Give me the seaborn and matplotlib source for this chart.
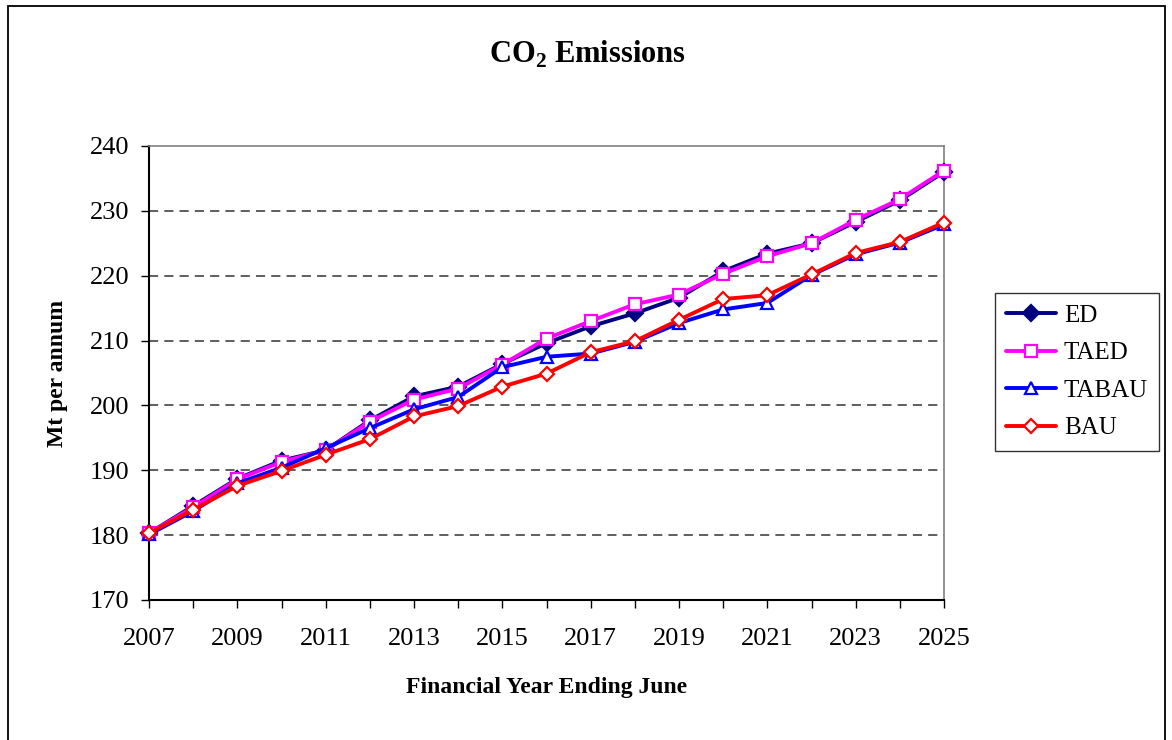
import matplotlib
matplotlib.use("Agg")
import matplotlib.pyplot as plt
import seaborn as sns
import pandas as pd
from matplotlib.patches import Rectangle

years = list(range(2007, 2026))
ed    = [180.3, 184.5, 188.7, 191.5, 193.1, 197.7, 201.4, 202.9, 206.4, 209.6, 212.2, 214.2, 216.6, 220.7, 223.4, 225.0, 228.3, 231.6, 236.0]
taed  = [180.3, 184.3, 188.6, 191.3, 193.1, 197.5, 200.9, 202.6, 206.3, 210.3, 213.0, 215.6, 217.1, 220.3, 223.0, 225.0, 228.6, 231.8, 236.2]
tabau = [180.1, 183.7, 188.0, 190.4, 193.4, 196.5, 199.4, 201.3, 205.9, 207.5, 208.0, 209.8, 212.7, 214.8, 215.8, 220.1, 223.3, 225.1, 227.9]
bau   = [180.3, 183.9, 187.6, 189.9, 192.4, 194.8, 198.3, 199.9, 202.9, 204.9, 208.2, 209.9, 213.2, 216.4, 217.0, 220.2, 223.5, 225.2, 228.2]
series_names = ["ED", "TAED", "TABAU", "BAU"]

df = pd.DataFrame({"year": years, "ED": ed, "TAED": taed, "TABAU": tabau, "BAU": bau})

sns.set_style("white")
plt.rcParams["font.family"] = ["Liberation Serif", "DejaVu Serif"]
plt.rcParams["text.color"] = "black"
plt.rcParams["xtick.color"] = "black"
plt.rcParams["ytick.color"] = "black"
plt.rcParams["axes.labelcolor"] = "black"

fig = plt.figure(figsize=(11.72, 7.4), dpi=100)
ax = fig.add_axes([149/1172, 1-600/740, (944-149)/1172, (600-146)/740])

styles = {
    "ED":    dict(color="#000080", marker="D", mfc="#000080", mec="#000080", ms=8),
    "TAED":  dict(color="#FF00FF", marker="s", mfc="white", mec="#FF00FF", ms=8),
    "TABAU": dict(color="#0000FF", marker="^", mfc="white", mec="#0000FF", ms=9),
    "BAU":   dict(color="#FF0000", marker="D", mfc="white", mec="#FF0000", ms=7),
}
for name in series_names:
    st = styles[name]
    sns.lineplot(data=df, x="year", y=name, ax=ax, color=st["color"], marker=st["marker"],
                 markerfacecolor=st["mfc"], markeredgecolor=st["mec"], markersize=st["ms"],
                 markeredgewidth=1.6, linewidth=2.8, label=name, clip_on=False, zorder=3)

ax.set_xlim(2007, 2025)
ax.set_ylim(170, 240)
ax.set_xticks(years)
ax.set_xticklabels([str(y) if (y - 2007) % 2 == 0 else "" for y in years])
ax.set_yticks(range(170, 241, 10))
ax.tick_params(axis="x", direction="out", length=6, width=1, pad=14, labelsize=19, bottom=True, colors="black")
ax.tick_params(axis="y", direction="out", length=6, width=1, pad=8, labelsize=19, left=True, colors="black")

for yv in range(180, 240, 10):
    ax.axhline(yv, color="#333333", lw=1.1, ls=(0, (6, 4)), zorder=1)

ax.spines["left"].set_color("black")
ax.spines["bottom"].set_color("black")
ax.spines["left"].set_linewidth(1.5)
ax.spines["bottom"].set_linewidth(1.5)
ax.spines["top"].set_color("#808080")
ax.spines["right"].set_color("#808080")
ax.spines["top"].set_linewidth(1.2)
ax.spines["right"].set_linewidth(1.2)

ax.set_xlabel("")
ax.set_ylabel("")
fig.text(587/1172, 1 - 54/740, r"CO$_\mathregular{2}$ Emissions", ha="center", va="center",
         fontsize=22, fontweight="bold", color="black")
fig.text((149 + 944) / 2 / 1172, 1 - 688/740, "Financial Year Ending June", ha="center", va="center",
         fontsize=17, fontweight="bold", color="black")
fig.text(57/1172, 1 - 373/740, "Mt per annum", ha="center", va="center", rotation=90,
         fontsize=17, fontweight="bold", color="black")

leg = ax.legend(loc="upper left", bbox_to_anchor=(995/1172, 1-293/740), bbox_transform=fig.transFigure,
                frameon=True, fancybox=False, edgecolor="black", fontsize=18, handlelength=2.0,
                borderpad=0.45, labelspacing=0.6, handletextpad=0.3, borderaxespad=0)
leg.get_frame().set_linewidth(1.0)
for t in leg.get_texts():
    t.set_color("black")

fig.patches.append(Rectangle((8/1172, -0.05), (1165-8)/1172, 1.05 - 6/740, transform=fig.transFigure,
                             fill=False, edgecolor="black", lw=1.3))

fig.savefig("out.png", dpi=100)
